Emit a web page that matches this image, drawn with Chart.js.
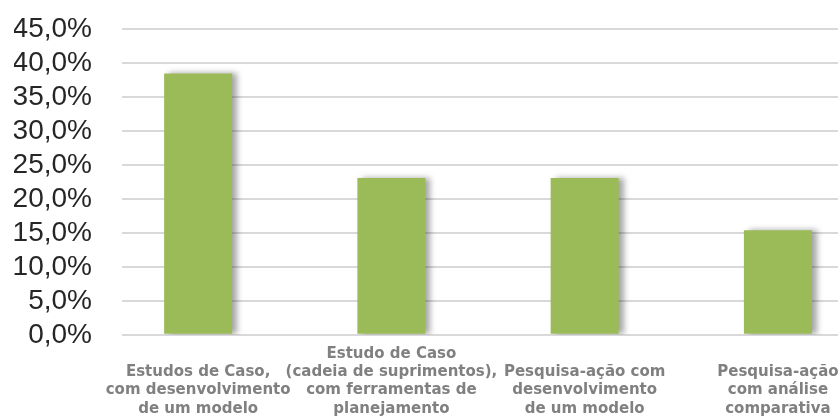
<!DOCTYPE html>
<html lang="pt">
<head>
<meta charset="utf-8">
<title>Métodos de pesquisa</title>
<script src="https://cdn.jsdelivr.net/npm/chart.js@4"></script>
<style>
  html, body {
    margin: 0;
    padding: 0;
    background: #ffffff;
    overflow: hidden;
  }
  #chartBox {
    position: relative;
    width: 860px;
    height: 447px;
  }
</style>
</head>
<body>
<div id="chartBox">
  <canvas id="methodChart"></canvas>
</div>

<script>
// ======================================================
// DATA
// ======================================================

const categories = [
  ["Estudos de Caso,", "com desenvolvimento", "de um modelo"],
  ["Estudo de Caso", "(cadeia de suprimentos),", "com ferramentas de", "planejamento"],
  ["Pesquisa-ação com", "desenvolvimento", "de um modelo"],
  ["Pesquisa-ação", "com análise", "comparativa"],
];

// percentual de trabalhos por método
const shares = [38.46, 23.08, 23.08, 15.38];

const Y_MAX = 45;
const Y_STEP = 5;

// ======================================================
// HELPERS
// ======================================================

function formatPercent(value) {
  return value.toFixed(1).replace(".", ",") + "%";
}

// sombra suave à direita das barras
const barShadow = {
  id: "barShadow",
  beforeDatasetsDraw(chart) {
    const ctx = chart.ctx;
    ctx.save();
    ctx.shadowColor = "rgba(0,0,0,0.35)";
    ctx.shadowBlur = 6;
    ctx.shadowOffsetX = 5;
    ctx.shadowOffsetY = 0;
  },
  afterDatasetsDraw(chart) {
    chart.ctx.restore();
  },
};

// ======================================================
// CHART
// ======================================================

const ctx = document.getElementById("methodChart").getContext("2d");

const methodChart = new Chart(ctx, {
  type: "bar",
  data: {
    datasets: [
      {
        label: "Métodos",
        data: shares.map((value, i) => ({ x: i, y: value })),
        backgroundColor: "#9bbb59",
        borderWidth: 0,
        barPercentage: 0.352,
        categoryPercentage: 1,
      },
    ],
  },
  options: {
    responsive: true,
    maintainAspectRatio: false,
    animation: false,
    layout: {
      padding: { top: 29, left: 14, right: 4, bottom: 1 },
    },
    plugins: {
      legend: { display: false },
      tooltip: { enabled: false },
    },
    scales: {
      x: {
        type: "linear",
        bounds: "data",
        offset: false,
        min: -0.394,
        max: 3.404,
        // um tick por categoria
        afterBuildTicks: (scale) => {
          scale.ticks = categories.map((_, i) => ({ value: i }));
        },
        grid: { display: false, drawTicks: false },
        border: { display: false },
        ticks: {
          autoSkip: false,
          maxRotation: 0,
          minRotation: 0,
          crossAlign: "far",
          padding: 19,
          color: "#808080",
          font: { family: "'DejaVu Sans'", size: 15, weight: "bold", lineHeight: 1.22 },
          callback: (value) => categories[value] || "",
        },
      },
      y: {
        min: 0,
        max: Y_MAX,
        // largura fixa e sem folga extra em cima/baixo
        afterFit: (scale) => {
          scale.width = 108;
          scale.paddingTop = 0;
          scale.paddingBottom = 0;
        },
        grid: {
          color: "#d9d9d9",
          lineWidth: 2,
          drawTicks: false,
        },
        border: { display: false },
        ticks: {
          stepSize: Y_STEP,
          autoSkip: false,
          padding: 30,
          color: "#262626",
          font: { family: "'Liberation Sans'", size: 28 },
          callback: (value) => formatPercent(value),
        },
      },
    },
  },
  plugins: [barShadow],
});
</script>
</body>
</html>
